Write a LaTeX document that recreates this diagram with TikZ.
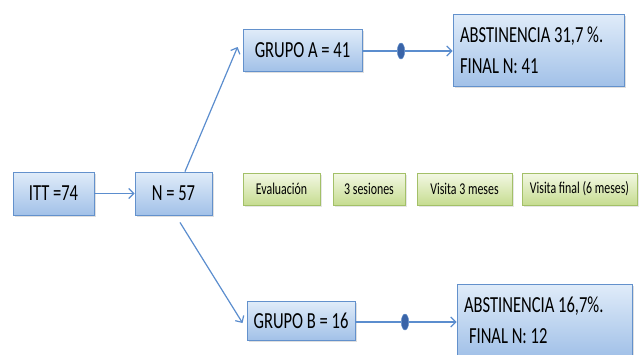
\documentclass[tikz,border=0pt]{standalone}
\usepackage{fontspec}
\setmainfont{Carlito}[FakeStretch=0.72]
\usetikzlibrary{shapes.geometric, arrows.meta, shadows}
\definecolor{bluetop}{HTML}{E0ECF9}
\definecolor{bluebottom}{HTML}{A2C1E8}
\definecolor{blueline}{HTML}{6391CC}
\definecolor{greentop}{HTML}{F3F8E4}
\definecolor{greenbottom}{HTML}{C6DC90}
\definecolor{greenline}{HTML}{A3C068}
\definecolor{arrowblue}{HTML}{5B8DCE}
\definecolor{dotblue}{HTML}{3A64A8}
\tikzstyle{bluenode} = [rectangle, text centered, draw=blueline, line width=0.9pt,
                        top color=bluetop, bottom color=bluebottom,
                        drop shadow={opacity=0.25, shadow xshift=1.5pt, shadow yshift=-2pt},
                        font=\fontsize{23}{27}\selectfont, inner sep=0pt]
\tikzstyle{resultnode} = [bluenode, align=flush left, text width=157pt, inner xsep=7pt,
                          font=\fontsize{23}{31}\selectfont]
\tikzstyle{greennode} = [rectangle, text centered, draw=greenline, line width=0.8pt,
                         top color=greentop, bottom color=greenbottom,
                         drop shadow={opacity=0.2, shadow xshift=1.5pt, shadow yshift=-2pt},
                         font=\fontsize{16.5}{19}\selectfont, inner sep=0pt,
                         minimum height=32pt]
\tikzstyle{arrow} = [line width=1.2pt, -{Straight Barb[length=5pt, width=10pt]}, color=arrowblue]
\tikzstyle{plainline} = [line width=1.2pt, color=arrowblue]
\tikzstyle{dot} = [ellipse, fill=dotblue, draw=blueline, line width=0.4pt,
                   minimum width=7.5pt, minimum height=16pt, inner sep=0pt]

\begin{document}
\begin{tikzpicture}[x=1pt, y=-1pt]
\useasboundingbox (0,0) rectangle (639,354);

\node (itt) [bluenode, minimum width=81pt, minimum height=43pt] at (53.5,193.5) {ITT =74};
\node (n57) [bluenode, minimum width=77pt, minimum height=43pt] at (173.5,193.5) {N = 57};
\node (grupoa) [bluenode, minimum width=119pt, minimum height=42pt] at (302.5,50) {GRUPO A = 41};
\node (grupob) [bluenode, minimum width=108pt, minimum height=39pt] at (301,320.5) {GRUPO B = 16};

\node (absta) [resultnode, minimum height=72pt] at (538.5,50)
  {ABSTINENCIA 31,7 \%.\\FINAL N: 41};
\node (abstb) [resultnode, minimum height=72pt, text width=161pt] at (544.5,320)
  {ABSTINENCIA 16,7\%.\\\hspace{5pt}FINAL N: 12};

% visit timeline
\node (eval) [greennode, minimum width=77pt] at (281.5,189) {Evaluación};
\node (ses) [greennode, minimum width=72pt] at (369,189) {3 sesiones};
\node (vis3) [greennode, minimum width=95pt] at (464.5,189) {Visita 3 meses};
\node (visf) [greennode, minimum width=115pt] at (579.5,189) {Visita final (6 meses)};

\node (dota) [dot] at (401,51) {};
\node (dotb) [dot] at (405,322) {};

\draw [arrow] (itt.east) -- (n57.west);
\draw [arrow] ([xshift=11.5pt]n57.north) -- ([xshift=-5pt, yshift=3pt]grupoa.west);
\draw [arrow] ([xshift=6.5pt, yshift=-7pt]n57.south) -- ([xshift=-4pt, yshift=-2.5pt]grupob.west);

\draw [plainline] (grupoa.east |- dota) -- (dota);
\draw [arrow] (dota) -- (absta.west |- dota);
\draw [plainline] (grupob.east |- dotb) -- (dotb);
\draw [arrow] (dotb) -- (abstb.west |- dotb);

\end{tikzpicture}
\end{document}
